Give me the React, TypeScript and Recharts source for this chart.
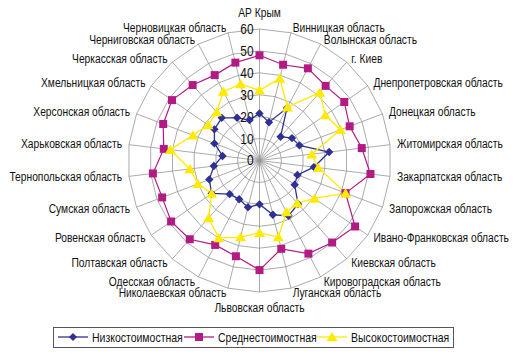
import { RadarChart, Radar, PolarGrid, PolarAngleAxis, PolarRadiusAxis, Legend } from 'recharts';

const regions = [
  'АР Крым',
  'Винницкая область',
  'Волынская область',
  'г. Киев',
  'Днепропетровская область',
  'Донецкая область',
  'Житомирская область',
  'Закарпатская область',
  'Запорожская область',
  'Ивано-Франковская область',
  'Киевская область',
  'Кировоградская область',
  'Луганская область',
  'Львовская область',
  'Николаевская область',
  'Одесская область',
  'Полтавская область',
  'Ровенская область',
  'Сумская область',
  'Тернопольская область',
  'Харьковская область',
  'Херсонская область',
  'Хмельницкая область',
  'Черкасская область',
  'Черниговская область',
  'Черновицкая область',
];

const lowCost = [21.5, 18, 27, 14.5, 18, 19.5, 32, 25, 18.5, 19.5, 26.5, 28.5, 25.5, 20, 22, 20, 20.5, 26.5, 24.5, 21, 17, 22, 25, 26, 22, 19];
const midCost = [48, 45, 47.5, 45.5, 47, 44, 47, 51, 42, 53, 50, 48, 41.5, 50, 45, 43.5, 48, 49, 47.5, 49, 44, 47, 48.5, 46, 44, 46];
const highCost = [32, 38.5, 27.5, 41.5, 36.5, 39.5, 24, 27, 42, 30.5, 26, 26.5, 36, 33, 36, 40, 35, 26.5, 30, 32, 41, 32.5, 28.5, 29.5, 35.5, 36];

const radiusTicks = [0, 10, 20, 30, 40, 50, 60];

const seriesNames = ['Низкостоимостная', 'Среднестоимостная', 'Высокостоимостная'];

const NAVY = '#2e3192';
const MAGENTA = '#b31b84';
const YELLOW = '#ffea00';
// no narrow font installed, so Liberation Sans squeezed horizontally
const FONT = '"Liberation Sans", Arial, sans-serif';
const NARROW = 0.82;

const CX = 259.5;
const CY = 160.5;
const R = 131.5;

const data = regions.map((name, i) => ({
  name,
  low: lowCost[i],
  mid: midCost[i],
  high: highCost[i],
}));

function diamond(x: number, y: number, s: number) {
  return `M${x},${y - s}L${x + s},${y}L${x},${y + s}L${x - s},${y}Z`;
}
function square(x: number, y: number, s: number) {
  return `M${x - s},${y - s}H${x + s}V${y + s}H${x - s}Z`;
}
function triangle(x: number, y: number, s: number) {
  return `M${x},${y - s}L${x + s * 1.1},${y + s * 0.85}L${x - s * 1.1},${y + s * 0.85}Z`;
}

const DiamondDot = (p: any) => <path key={`d${p.index}`} d={diamond(p.cx, p.cy, 4.2)} fill={NAVY} />;
const SquareDot = (p: any) => <path key={`s${p.index}`} d={square(p.cx, p.cy, 4)} fill={MAGENTA} />;
const TriangleDot = (p: any) => <path key={`t${p.index}`} d={triangle(p.cx, p.cy, 5)} fill={YELLOW} />;

const NarrowText = ({ x, y, anchor, size, children }: any) => (
  <text
    transform={`translate(${x},${y}) scale(${NARROW},1)`}
    textAnchor={anchor}
    dominantBaseline="central"
    fontSize={size}
    fill="#111"
    fontFamily={FONT}
  >
    {children}
  </text>
);

const AngleTick = (props: any) => {
  const i = regions.indexOf(props.payload.value);
  const a = (i * 2 * Math.PI) / regions.length;
  const s = Math.sin(a);
  const c = Math.cos(a);
  let x = CX + (R + 7) * s;
  let y = CY - (R + 5) * c;
  const anchor = s > 0.01 ? 'start' : s < -0.01 ? 'end' : 'middle';
  if (anchor === 'middle') {
    y = CY - (R + 16) * c;
    x = CX;
  }
  return (
    <NarrowText x={x} y={y} anchor={anchor} size={12.5}>
      {props.payload.value}
    </NarrowText>
  );
};

const RadiusTick = (props: any) => (
  <NarrowText x={props.x - 6} y={props.y} anchor="end" size={14.5}>
    {props.payload.value}
  </NarrowText>
);

const LegendBox = () => {
  const items = [
    { x: 5, color: NAVY, mark: (x: number) => <path d={diamond(x, 10, 4)} fill={NAVY} /> },
    { x: 131, color: MAGENTA, mark: (x: number) => <path d={square(x, 10, 4)} fill={MAGENTA} /> },
    { x: 264, color: YELLOW, mark: (x: number) => <path d={triangle(x, 10, 5)} fill={YELLOW} /> },
  ];
  return (
    <svg width={401} height={21} style={{ display: 'block' }}>
      <rect x={0.5} y={0.5} width={400} height={20} fill="#fff" stroke="#555" strokeWidth={1} />
      {items.map((it, k) => (
        <g key={k}>
          <line x1={it.x} y1={10} x2={it.x + 30} y2={10} stroke={it.color} strokeWidth={1.3} />
          {it.mark(it.x + 15)}
          <NarrowText x={it.x + 34} y={10.5} anchor="start" size={12.8}>
            {seriesNames[k]}
          </NarrowText>
        </g>
      ))}
    </svg>
  );
};

export default function App() {
  return (
    <div style={{ position: 'absolute', left: 0, top: 0, background: '#fff' }}>
      <RadarChart
        width={520}
        height={358}
        data={data}
        cx={CX}
        cy={CY}
        outerRadius={R}
        margin={{ top: 0, right: 0, bottom: 0, left: 0 }}
      >
        <PolarGrid gridType="polygon" stroke="#959595" strokeWidth={0.8} />
        <PolarAngleAxis dataKey="name" tick={AngleTick} tickLine={false} axisLine={false} />
        <PolarRadiusAxis
          angle={90}
          domain={[0, 60]}
          ticks={radiusTicks}
          tick={RadiusTick}
          axisLine={false}
          tickLine={false}
        />
        <Radar name={seriesNames[0]} dataKey="low" stroke={NAVY} strokeWidth={1.3} fill="none" fillOpacity={0} dot={DiamondDot} isAnimationActive={false} />
        <Radar name={seriesNames[1]} dataKey="mid" stroke={MAGENTA} strokeWidth={1.2} fill="none" fillOpacity={0} dot={SquareDot} isAnimationActive={false} />
        <Radar name={seriesNames[2]} dataKey="high" stroke={YELLOW} strokeWidth={1.3} fill="none" fillOpacity={0} dot={TriangleDot} isAnimationActive={false} />
        <Legend
          content={LegendBox}
          wrapperStyle={{ position: 'absolute', left: 53, top: 327, width: 401, height: 21 }}
        />
      </RadarChart>
    </div>
  );
}
